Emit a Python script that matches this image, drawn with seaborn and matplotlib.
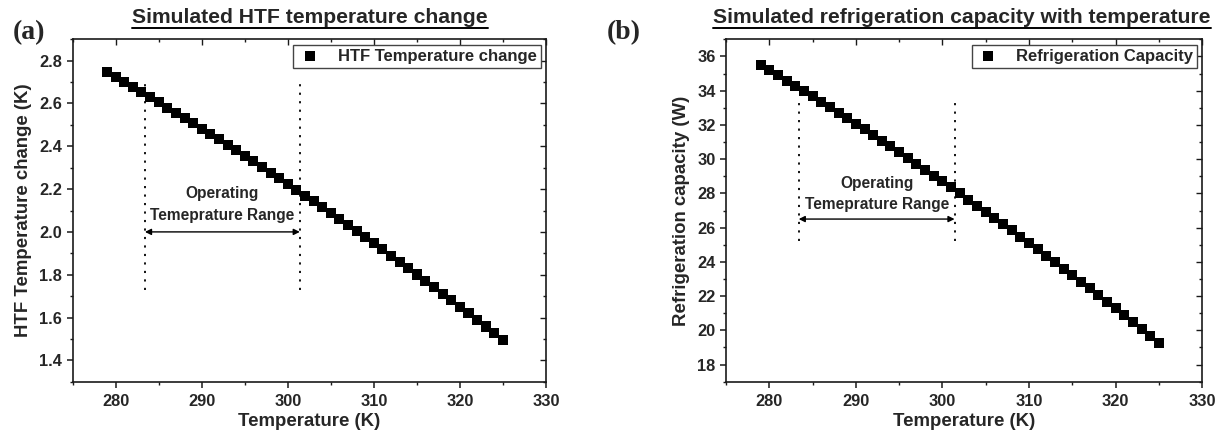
import matplotlib
matplotlib.use("Agg")
import matplotlib.pyplot as plt
from matplotlib.lines import Line2D
from matplotlib.ticker import MultipleLocator
import seaborn as sns
import pandas as pd

# temperature points (K), shared by both panels
temperature = [279, 280, 281, 282, 283, 284, 285, 286, 287, 288, 289, 290,
               291, 292, 293, 294, 295, 296, 297, 298, 299, 300, 301, 302,
               303, 304, 305, 306, 307, 308, 309, 310, 311, 312, 313, 314,
               315, 316, 317, 318, 319, 320, 321, 322, 323, 324, 325]

# (a) HTF temperature change (K)
htf_change = [2.745, 2.722, 2.699, 2.676, 2.652, 2.629, 2.605, 2.581, 2.557,
              2.532, 2.508, 2.483, 2.458, 2.433, 2.407, 2.382, 2.356, 2.330,
              2.304, 2.277, 2.251, 2.224, 2.197, 2.170, 2.143, 2.116, 2.088,
              2.060, 2.032, 2.004, 1.976, 1.947, 1.918, 1.889, 1.860, 1.831,
              1.801, 1.771, 1.741, 1.711, 1.681, 1.651, 1.620, 1.589, 1.558,
              1.527, 1.495]

# (b) refrigeration capacity (W)
ref_capacity = [35.50, 35.20, 34.90, 34.59, 34.28, 33.97, 33.66, 33.34, 33.03,
                32.71, 32.39, 32.06, 31.74, 31.41, 31.08, 30.74, 30.41, 30.07,
                29.73, 29.39, 29.04, 28.70, 28.35, 28.00, 27.64, 27.29, 26.93,
                26.57, 26.21, 25.84, 25.47, 25.10, 24.73, 24.36, 23.98, 23.60,
                23.22, 22.84, 22.45, 22.07, 21.68, 21.28, 20.89, 20.49, 20.09,
                19.69, 19.29]

# operating range markers
range_lo, range_hi = 283.4, 301.4

sns.set_style("ticks")
plt.rcParams['font.family'] = ['Liberation Sans', 'DejaVu Sans']
plt.rcParams['font.weight'] = 'bold'
plt.rcParams['axes.labelweight'] = 'bold'

df = pd.DataFrame({'T': temperature, 'htf': htf_change, 'cap': ref_capacity})

fig = plt.figure(figsize=(12.23, 4.38), dpi=100)
ax1 = fig.add_axes([0.0594, 0.1285, 0.3870, 0.7818])
ax2 = fig.add_axes([0.5936, 0.1285, 0.3894, 0.7818])

DARK = '#1a1a1a'


def style_axis(ax, ymin, ymax, ymajor, yminor):
    ax.set_xlim(275, 330)
    ax.set_ylim(ymin, ymax)
    ax.xaxis.set_major_locator(MultipleLocator(10))
    ax.xaxis.set_minor_locator(MultipleLocator(5))
    ax.yaxis.set_major_locator(MultipleLocator(ymajor))
    ax.yaxis.set_minor_locator(MultipleLocator(yminor))
    for s in ax.spines.values():
        s.set_visible(True)
        s.set_linewidth(1.2)
        s.set_color(DARK)
    ax.tick_params(which='major', direction='out', length=4, width=1.1,
                   labelsize=11.8, color=DARK)
    ax.tick_params(axis='x', which='major', pad=4.5)
    ax.tick_params(which='minor', direction='out', length=2.3, width=1.0,
                   color=DARK)
    # mirrored ticks on top and right, pointing inwards
    top = ax.secondary_xaxis('top')
    top.xaxis.set_major_locator(MultipleLocator(10))
    top.xaxis.set_minor_locator(MultipleLocator(5))
    top.tick_params(which='both', direction='in', labeltop=False, width=1.0,
                    color=DARK)
    top.tick_params(which='major', length=4)
    top.tick_params(which='minor', length=2.3)
    right = ax.secondary_yaxis('right')
    right.yaxis.set_major_locator(MultipleLocator(ymajor))
    right.yaxis.set_minor_locator(MultipleLocator(yminor))
    right.tick_params(which='both', direction='in', labelright=False, width=1.0,
                      color=DARK)
    right.tick_params(which='major', length=4)
    right.tick_params(which='minor', length=2.3)
    for sa in (top, right):
        for s in sa.spines.values():
            s.set_visible(False)
    for lab in ax.get_xticklabels() + ax.get_yticklabels():
        lab.set_fontweight('bold')


# panel (a)
sns.scatterplot(data=df, x='T', y='htf', marker='s', s=52, color='black',
                edgecolor='none', linewidth=0, ax=ax1,
                label='HTF Temperature change')
style_axis(ax1, 1.3, 2.9, 0.2, 0.1)
ax1.set_xlabel('Temperature (K)', fontsize=13.4, fontweight='bold', labelpad=3)
ax1.set_ylabel('HTF Temperature change (K)', fontsize=13.4, fontweight='bold',
               labelpad=5)
ax1.vlines([range_lo, range_hi], 1.73, 2.70, colors='black',
           linestyles=(0, (1.2, 3.5)), linewidth=1.3)
ax1.annotate('', xy=(range_hi, 2.0), xytext=(range_lo, 2.0),
             arrowprops=dict(arrowstyle='<|-|>', color='black', lw=1.0,
                             mutation_scale=9, shrinkA=0, shrinkB=0))
ax1.text((range_lo + range_hi) / 2, 2.127, 'Operating\nTemeprature Range',
         ha='center', va='center', fontsize=11.2, fontweight='bold',
         linespacing=1.55)

# panel (b)
sns.scatterplot(data=df, x='T', y='cap', marker='s', s=52, color='black',
                edgecolor='none', linewidth=0, ax=ax2,
                label='Refrigeration Capacity')
style_axis(ax2, 17, 37, 2, 1)
ax2.set_xlabel('Temperature (K)', fontsize=13.4, fontweight='bold', labelpad=3)
ax2.set_ylabel('Refrigeration capacity (W)', fontsize=13.4, fontweight='bold',
               labelpad=5)
ax2.vlines([range_lo, range_hi], 25.2, 33.3, colors='black',
           linestyles=(0, (1.2, 3.5)), linewidth=1.3)
ax2.annotate('', xy=(range_hi, 26.5), xytext=(range_lo, 26.5),
             arrowprops=dict(arrowstyle='<|-|>', color='black', lw=1.0,
                             mutation_scale=9, shrinkA=0, shrinkB=0))
ax2.text((range_lo + range_hi) / 2, 27.97, 'Operating\nTemeprature Range',
         ha='center', va='center', fontsize=11.2, fontweight='bold',
         linespacing=1.55)

for ax in (ax1, ax2):
    leg = ax.legend(loc='upper right', fontsize=12, frameon=True,
                    fancybox=False, framealpha=1, edgecolor='#444444',
                    borderpad=0.25, handletextpad=0.9, handlelength=1.5,
                    borderaxespad=0.32, markerscale=1.0)
    leg.get_frame().set_linewidth(1.0)
    for t in leg.get_texts():
        t.set_fontweight('bold')

# titles (underlined) and panel letters
W, H = 1223, 438
titles = [
    (310, 'Simulated HTF temperature change'),
    (962, 'Simulated refrigeration capacity with temperature'),
]
title_texts = []
for xc, txt in titles:
    t = fig.text(xc / W, 1 - 23 / H, txt, ha='center', va='baseline',
                 fontsize=15.2, fontweight='bold')
    title_texts.append(t)

fig.text(13 / W, 1 - 39 / H, '(a)', family='Liberation Serif',
         fontweight='bold', fontsize=20, va='baseline')
fig.text(607 / W, 1 - 39 / H, '(b)', family='Liberation Serif',
         fontweight='bold', fontsize=20, va='baseline')

fig.canvas.draw()
renderer = fig.canvas.get_renderer()
for t in title_texts:
    bb = t.get_window_extent(renderer)
    yline = (H - 27.5) / H
    fig.add_artist(Line2D([bb.x0 / W, bb.x1 / W], [yline, yline],
                          color='black', linewidth=1.4,
                          transform=fig.transFigure))

fig.savefig('out.png', dpi=100)
